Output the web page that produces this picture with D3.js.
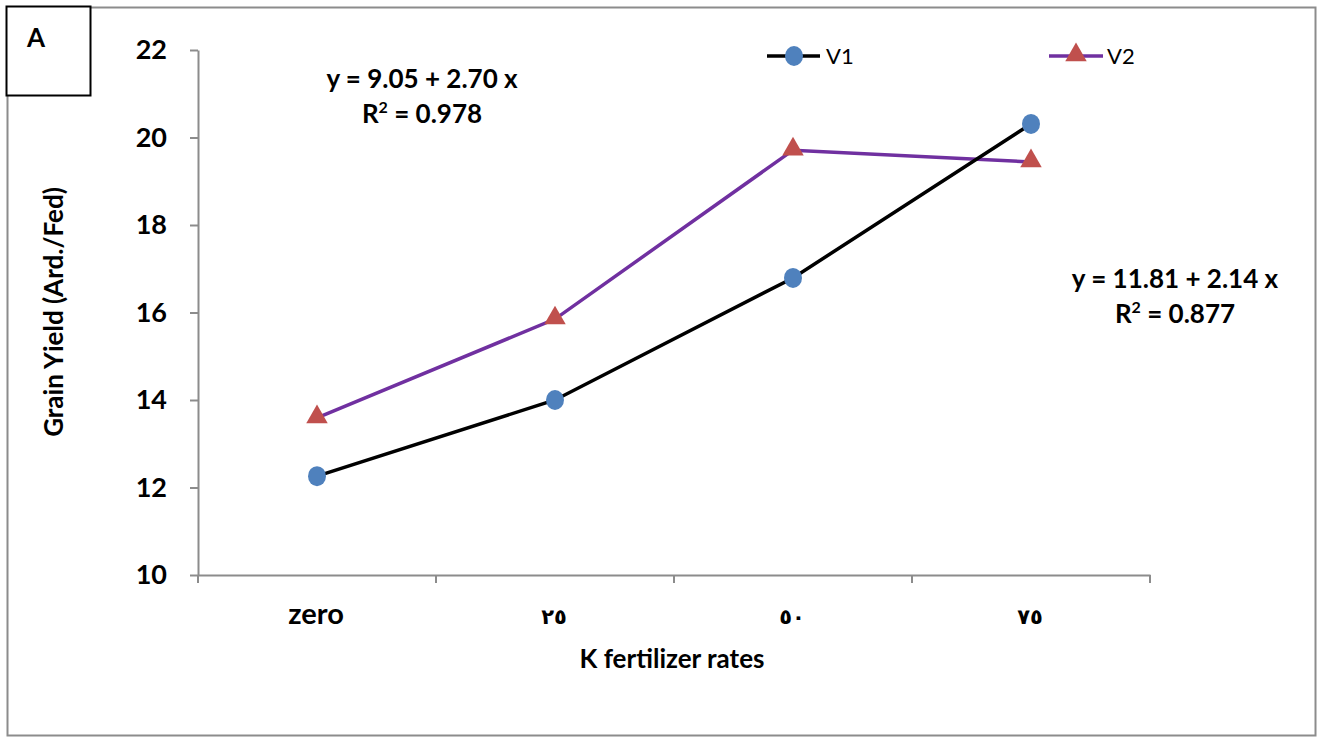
<!DOCTYPE html>
<html>
<head>
<meta charset="utf-8">
<script src="https://cdn.jsdelivr.net/npm/d3@7"></script>
<style>
  body { margin: 0; background: #fff; }
  text { font-family: Lato, "Open Sans", "DejaVu Sans", sans-serif; }
</style>
</head>
<body>
<svg id="chart" width="1323" height="744"></svg>
<script>
// categories and series
var categories = ["zero", "٢٥", "٥٠", "٧٥"]
var v1 = [12.26, 14.0, 16.79, 20.31]
var v2 = [13.59, 15.85, 19.71, 19.44]
var yTicks = [10, 12, 14, 16, 18, 20, 22]

var svg = d3.select("#chart")

// outer frame
svg.append("rect").attr("x", 7.5).attr("y", 7.5).attr("width", 1308).attr("height", 728)
  .attr("fill", "white").attr("stroke", "#8c8c8c").attr("stroke-width", 2)

// panel label box
svg.append("rect").attr("x", 6.5).attr("y", 6.5).attr("width", 84).attr("height", 89)
  .attr("fill", "white").attr("stroke", "black").attr("stroke-width", 2)
svg.append("text").attr("x", 36).attr("y", 47).text("A")
  .style("font-size", "26px").style("font-weight", "bold").attr("text-anchor", "middle")

var x = d3.scaleBand().domain(categories).range([198, 1150])
var y = d3.scaleLinear().domain([10, 22]).range([575, 50])

// y axis
var yAxis = svg.append("g").attr("transform", "translate(198,0)")
  .call(d3.axisLeft(y).tickValues(yTicks).tickSize(8).tickPadding(23).tickSizeOuter(0))
yAxis.select(".domain").attr("stroke", "#8c8c8c").attr("stroke-width", 2)
yAxis.selectAll(".tick line").attr("stroke", "#8c8c8c").attr("stroke-width", 2)
yAxis.selectAll(".tick text").style("font-size", "27px").style("font-weight", "bold")
  .style("font-family", "Lato").attr("fill", "black")

// x axis
var xAxis = svg.append("g").attr("transform", "translate(0,575)")
  .call(d3.axisBottom(x).tickSize(8).tickSizeOuter(0).tickFormat(""))
xAxis.select(".domain").attr("stroke", "#8c8c8c").attr("stroke-width", 2)
xAxis.selectAll(".tick line").attr("stroke", "#8c8c8c").attr("stroke-width", 2)
  .attr("transform", "translate(" + (x.bandwidth() / 2) + ",0)")
// left tick at the axis crossing
xAxis.append("line").attr("x1", 198).attr("x2", 198).attr("y1", 0).attr("y2", 8)
  .attr("stroke", "#8c8c8c").attr("stroke-width", 2)

svg.selectAll(".xlab").data(categories).enter().append("text")
  .attr("class", "xlab")
  .attr("x", function(d) { return x(d) + x.bandwidth() / 2 - 1 })
  .attr("y", 624)
  .attr("text-anchor", "middle")
  .style("font-size", function(d, i) { return i == 0 ? "29px" : "21px" })
  .style("font-weight", "bold")
  .style("font-family", function(d, i) { return i == 0 ? "Lato" : "DejaVu Sans" })
  .text(function(d) { return d })

// axis titles
svg.append("text").attr("x", 672).attr("y", 668).attr("text-anchor", "middle")
  .style("font-size", "26px").style("font-weight", "bold").text("K fertilizer rates")
svg.append("text").attr("transform", "translate(63,312) rotate(-90)").attr("text-anchor", "middle")
  .style("font-size", "26px").style("font-weight", "bold").text("Grain Yield (Ard./Fed)")

var cx = function(d, i) { return x(categories[i]) + x.bandwidth() / 2 }
var line = d3.line().x(cx).y(function(d) { return y(d) })

svg.append("path").datum(v2).attr("d", line).attr("fill", "none")
  .attr("stroke", "#7030a0").attr("stroke-width", 3.5)
svg.append("path").datum(v1).attr("d", line).attr("fill", "none")
  .attr("stroke", "black").attr("stroke-width", 3.5)

var tri = d3.symbol().type(d3.symbolTriangle).size(200)
svg.selectAll(".m2").data(v2).enter().append("path")
  .attr("transform", function(d, i) { return "translate(" + cx(d, i) + "," + (y(d) - 1) + ")" })
  .attr("d", tri).attr("fill", "#c0504d")
svg.selectAll(".m1").data(v1).enter().append("ellipse")
  .attr("cx", cx).attr("cy", function(d) { return y(d) })
  .attr("rx", 9).attr("ry", 10).attr("fill", "#4f81bd")

// legend
svg.append("line").attr("x1", 767).attr("x2", 820).attr("y1", 56).attr("y2", 56)
  .attr("stroke", "black").attr("stroke-width", 3.5)
svg.append("ellipse").attr("cx", 794).attr("cy", 56).attr("rx", 9).attr("ry", 10).attr("fill", "#4f81bd")
svg.append("text").attr("x", 826).attr("y", 64).text("V1").style("font-size", "22px")
svg.append("line").attr("x1", 1049).attr("x2", 1103).attr("y1", 56).attr("y2", 56)
  .attr("stroke", "#7030a0").attr("stroke-width", 3.5)
svg.append("path").attr("transform", "translate(1076,55)").attr("d", tri).attr("fill", "#c0504d")
svg.append("text").attr("x", 1107).attr("y", 64).text("V2").style("font-size", "22px")

// regression equations
function eq(cxp, cy, a, b) {
  svg.append("text").attr("x", cxp).attr("y", cy).attr("text-anchor", "middle")
    .style("font-size", "26px").style("font-weight", "bold").text(a)
  var t = svg.append("text").attr("x", cxp).attr("y", cy + 35).attr("text-anchor", "middle")
    .style("font-size", "26px").style("font-weight", "bold")
  t.append("tspan").text("R")
  t.append("tspan").attr("dy", -10).style("font-size", "16px").text("2")
  t.append("tspan").attr("dy", 10).text(" = " + b)
}
eq(422, 88, "y = 9.05 + 2.70 x", "0.978")
eq(1175, 288, "y = 11.81 + 2.14 x", "0.877")
</script>
</body>
</html>
